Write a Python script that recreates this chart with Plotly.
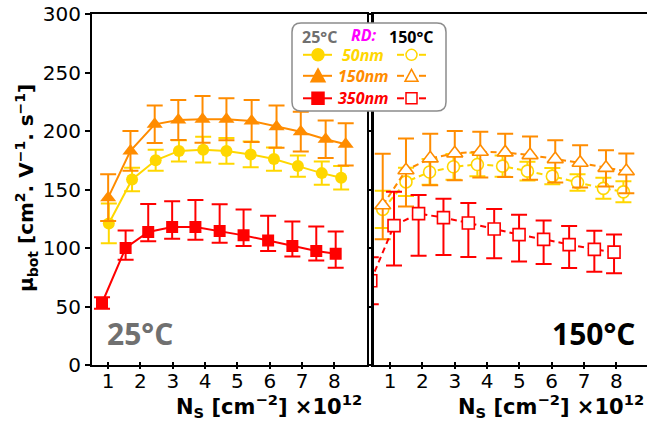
import plotly.graph_objects as go

# ---- data: bottom-channel mobility vs sheet density, three RD thicknesses ----
# 25 °C (left panel)
ns_50_rt = [1.02, 1.74, 2.47, 3.19, 3.94, 4.66, 5.41, 6.13, 6.87, 7.61, 8.21]
mu_50_rt = [121, 158.6, 175, 183, 184, 183, 180, 176, 170, 164, 160]
err_50_rt = [17, 10, 9, 9, 11, 11, 11, 10, 9, 10, 10]

ns_150_rt = [1.0, 1.69, 2.44, 3.17, 3.92, 4.66, 5.44, 6.21, 6.96, 7.73, 8.35]
mu_150_rt = [143, 183, 205.7, 209.4, 210, 210, 208.5, 203.7, 199.4, 192.9, 188.6]
err_150_rt = [20, 17, 16, 17, 20, 18, 18, 18, 17, 16, 18]

ns_350_rt = [0.81, 1.54, 2.24, 2.98, 3.70, 4.45, 5.19, 5.95, 6.70, 7.44, 8.04]
mu_350_rt = [53, 100, 113.7, 118, 118, 114.5, 110.8, 106.5, 101.7, 97.4, 95.1]
err_350_rt_up = [5, 15, 24, 22, 23, 23, 22, 21, 21, 21, 19]
err_350_rt_dn = [5, 10, 8, 10, 11, 10, 9, 9, 9, 8, 12]

# 150 °C (right panel)
ns_50_ht = [0.77, 1.49, 2.22, 2.96, 3.70, 4.48, 5.25, 6.02, 6.80, 7.60, 8.22]
mu_50_ht = [133, 156.5, 165, 169.4, 171.4, 170, 165.7, 161.4, 156, 151, 148]
err_50_ht = [16, 12, 11, 11, 10, 9, 8, 7, 7, 9, 9]

ns_150_ht = [0.77, 1.49, 2.24, 3.0, 3.79, 4.56, 5.33, 6.11, 6.88, 7.68, 8.31]
mu_150_ht = [136.5, 166.5, 176.6, 180.9, 182.3, 181.7, 179.4, 176, 172.8, 168.5, 165.7]
err_150_ht_up = [44, 27, 21, 19, 17, 16, 16, 16, 15, 15, 15]
err_150_ht_dn = [29, 31, 23, 23, 22, 21, 21, 20, 21, 16, 19]

ns_350_ht = [0.40, 1.12, 1.88, 2.65, 3.42, 4.22, 4.99, 5.75, 6.54, 7.32, 7.93]
mu_350_ht = [72, 119.1, 129.4, 126, 121.4, 116.3, 111.4, 107.4, 102.9, 98.8, 96.5]
err_350_ht_up = [20, 29, 16, 16, 17, 17, 17, 16, 16, 16, 15]
err_350_ht_dn = [20, 34, 36, 32, 29, 25, 23, 21, 20, 19, 18]

y_ticks = [0, 50, 100, 150, 200, 250, 300]
x_ticks = [1, 2, 3, 4, 5, 6, 7, 8]

YELLOW = "#FFD700"
ORANGE = "#FF8C00"
RED = "#FF0000"
GRAY = "#707070"

W, H = 647, 424
ML, MR, MT, MB = 92, 0, 14, 59
PW, PH = W - ML - MR, H - MT - MB


def px(x):
    return (x - ML) / PW


def py(y):
    return (MT + PH - y) / PH


fig = go.Figure()


def solid(x, y, color, symbol, size, up, dn=None):
    fig.add_trace(go.Scatter(
        x=x, y=y, mode="lines+markers", xaxis="x", yaxis="y",
        line=dict(color=color, width=2),
        marker=dict(symbol=symbol, size=size, color=color),
        error_y=dict(type="data", array=up, arrayminus=dn if dn else up,
                     color=color, thickness=2, width=8),
        showlegend=False))


def hollow(x, y, color, symbol, size, up, dn=None):
    fig.add_trace(go.Scatter(
        x=x, y=y, mode="lines+markers", xaxis="x2", yaxis="y2",
        line=dict(color=color, width=2, dash="6px,4px"),
        marker=dict(symbol=symbol, size=size, color="white",
                    line=dict(color=color, width=1.6)),
        error_y=dict(type="data", array=up, arrayminus=dn if dn else up,
                     color=color, thickness=2, width=8),
        showlegend=False))


solid(ns_50_rt, mu_50_rt, YELLOW, "circle", 12, err_50_rt)
solid(ns_150_rt, mu_150_rt, ORANGE, "triangle-up", 14, err_150_rt)
solid(ns_350_rt, mu_350_rt, RED, "square", 12, err_350_rt_up, err_350_rt_dn)

hollow(ns_50_ht, mu_50_ht, YELLOW, "circle", 12, err_50_ht)
hollow(ns_150_ht, mu_150_ht, ORANGE, "triangle-up", 14, err_150_ht_up, err_150_ht_dn)
hollow(ns_350_ht, mu_350_ht, RED, "square", 12, err_350_ht_up, err_350_ht_dn)

# empty traces so the outer-tick companion axes get drawn
fig.add_trace(go.Scatter(x=[None], y=[None], xaxis="x3", yaxis="y", showlegend=False,
                         hoverinfo="skip"))
fig.add_trace(go.Scatter(x=[None], y=[None], xaxis="x4", yaxis="y2", showlegend=False,
                         hoverinfo="skip"))

tickfont = dict(family="DejaVu Sans", size=20, color="black")
x_left_end = 366.7
x_right_start = 374
left_dom = [0, px(x_left_end)]
right_dom = [px(x_right_start), 1]

axis_common = dict(showgrid=False, zeroline=False, linecolor="black", linewidth=2,
                   tickwidth=2, tickcolor="black", tickfont=tickfont)
outer_ticks = dict(showgrid=False, zeroline=False, showline=False, showticklabels=False,
                   ticks="outside", ticklen=3, tickwidth=2, tickcolor="black")

fig.update_layout(
    width=W, height=H,
    margin=dict(l=ML, r=MR, t=MT, b=MB),
    paper_bgcolor="white", plot_bgcolor="white",
    font=dict(family="DejaVu Sans", color="black"),
    xaxis=dict(domain=left_dom, range=[0.5, 9], tickvals=x_ticks, mirror=True,
               anchor="y", ticks="inside", ticklen=3, ticklabelstandoff=-3,
               **axis_common),
    xaxis3=dict(domain=left_dom, range=[0.5, 9], tickvals=x_ticks, anchor="y",
                overlaying="x", **outer_ticks),
    yaxis=dict(domain=[0, 1], range=[0, 300], tickvals=y_ticks, mirror=True,
               anchor="x", ticks="outside", ticklen=5, **axis_common),
    xaxis2=dict(domain=right_dom, range=[0.5, 8.95], tickvals=x_ticks, mirror=True,
                anchor="y2", ticks="inside", ticklen=3, ticklabelstandoff=-3,
                **axis_common),
    xaxis4=dict(domain=right_dom, range=[0.5, 8.95], tickvals=x_ticks, anchor="y2",
                overlaying="x2", **outer_ticks),
    yaxis2=dict(domain=[0, 1], range=[0, 300], tickvals=y_ticks, anchor="x2",
                showticklabels=False, mirror=False, ticks="outside", ticklen=4,
                **{**axis_common, "linewidth": 3}),
)


def b(s):
    return "<b>" + s + "</b>"


ann = []


def note(text, x, y, family, size, color, xanchor="center", **kw):
    ann.append(dict(text=text, x=px(x), y=py(y), xref="paper", yref="paper",
                    showarrow=False, xanchor=xanchor, yanchor="middle",
                    font=dict(family=family, size=size, color=color), **kw))


title_x = b("N<sub>S</sub> [cm<sup>−2</sup>] ×10<sup>12</sup>")
note(title_x, 364, 406, "DejaVu Sans", 21, "black", xanchor="right")
note(title_x, 646, 406, "DejaVu Sans", 21, "black", xanchor="right")
note(b("μ<sub>bot</sub> [cm<sup>2</sup>. V<sup>−1</sup>. s<sup>−1</sup>]"),
     26, 188, "DejaVu Sans", 20, "black", textangle=-90)
note(b("25°C"), 140, 333, "Open Sans", 30, GRAY)
note(b("150°C"), 593, 333, "Open Sans", 30, "black")

# legend box content
lf = "Open Sans"
note(b("25°C"), 319.5, 36.5, lf, 16, GRAY)
note("<b><i>RD:</i></b>", 364, 35, lf, 16, "#FF00FF")
note(b("150°C"), 411, 36.5, lf, 16, "black")

rows = [("50nm", YELLOW, "circle", 54.8), ("150nm", ORANGE, "triangle", 75.8),
        ("350nm", RED, "square", 98.3)]
shapes = []

# rounded legend frame
x0, y0, x1, y1, r = 292, 23, 446, 111, 9
path = (f"M {px(x0 + r)},{py(y0)} L {px(x1 - r)},{py(y0)} "
        f"Q {px(x1)},{py(y0)} {px(x1)},{py(y0 + r)} L {px(x1)},{py(y1 - r)} "
        f"Q {px(x1)},{py(y1)} {px(x1 - r)},{py(y1)} L {px(x0 + r)},{py(y1)} "
        f"Q {px(x0)},{py(y1)} {px(x0)},{py(y1 - r)} L {px(x0)},{py(y0 + r)} "
        f"Q {px(x0)},{py(y0)} {px(x0 + r)},{py(y0)} Z")
shapes.append(dict(type="path", path=path, line=dict(color="#8C8C8C", width=1.5),
                   fillcolor="white"))


def glyph(kind, cx, cy, color, filled, half=6):
    fill = color if filled else "white"
    lw = 1.5
    if kind == "circle":
        return dict(type="circle", x0=px(cx - half), x1=px(cx + half),
                    y0=py(cy + half), y1=py(cy - half), fillcolor=fill,
                    line=dict(color=color, width=lw))
    if kind == "square":
        return dict(type="rect", x0=px(cx - half), x1=px(cx + half),
                    y0=py(cy + half), y1=py(cy - half), fillcolor=fill,
                    line=dict(color=color, width=lw))
    p = (f"M {px(cx - half - 1)},{py(cy + half)} L {px(cx + half + 1)},{py(cy + half)} "
         f"L {px(cx)},{py(cy - half - 1)} Z")
    return dict(type="path", path=p, fillcolor=fill, line=dict(color=color, width=lw))


for label, color, kind, yy in rows:
    shapes.append(dict(type="line", x0=px(303), x1=px(332), y0=py(yy), y1=py(yy),
                       line=dict(color=color, width=2)))
    shapes.append(glyph(kind, 318, yy, color, True))
    shapes.append(dict(type="line", x0=px(397), x1=px(404), y0=py(yy), y1=py(yy),
                       line=dict(color=color, width=2)))
    shapes.append(dict(type="line", x0=px(419), x1=px(426), y0=py(yy), y1=py(yy),
                       line=dict(color=color, width=2)))
    shapes.append(glyph(kind, 411.5, yy, color, False, half=5.5))
    note("<b><i>" + label + "</i></b>", 363, yy, lf, 16, color)

for s in shapes:
    s.update(xref="paper", yref="paper", layer="above")

fig.update_layout(annotations=ann, shapes=shapes)
fig.write_html("out.html")
